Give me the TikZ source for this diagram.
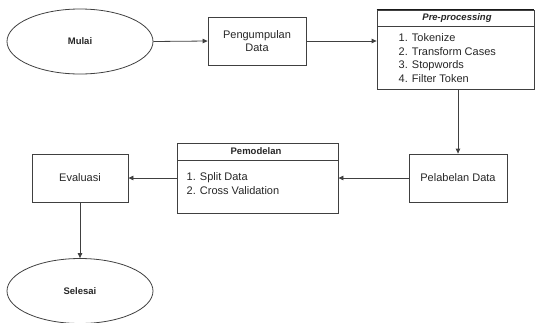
\documentclass[tikz,border=0pt]{standalone}
\usepackage{fontspec}
\setmainfont{Liberation Sans}
\usetikzlibrary{shapes.geometric,arrows.meta}
\begin{document}
\begin{tikzpicture}[x=1pt,y=-1pt,
  line/.style={draw=black!75,line width=0.8pt},
  arr/.style={line,-{Triangle[length=5pt,width=4.5pt]}},
  term/.style={ellipse,line,minimum width=146pt,minimum height=65pt,inner sep=0pt,font=\fontsize{9.5}{11}\selectfont\bfseries,text=black!85},
  proc/.style={rectangle,line,inner sep=0pt,font=\fontsize{11}{13}\selectfont,text=black!85,align=center},
  ttl/.style={font=\fontsize{9.5}{11}\selectfont\bfseries,text=black!85,inner sep=0pt},
  lst/.style={font=\fontsize{11}{13.6}\selectfont,text=black!85,inner sep=0pt,align=left,anchor=north west}
]
\useasboundingbox (0,0) rectangle (535,322);
% terminals
\node[term] (mulai) at (80,41.5) {Mulai};
\node[term] (selesai) at (80,291) {Selesai};
% process boxes
\node[proc,minimum width=98pt,minimum height=48pt] (peng) at (257,41) {Pengumpulan\\Data};
\node[proc,minimum width=98pt,minimum height=48pt] (pel) at (458,178) {Pelabelan Data};
\node[proc,minimum width=96pt,minimum height=48pt] (eval) at (80,178) {Evaluasi};
% pre-processing
\node[proc,minimum width=157pt,minimum height=79.5pt] (pre) at (455.5,49.7) {};
\draw[black!90,line width=1.1pt] (pre.north west) -- (pre.north east);
\coordinate (preH) at (377,26);
\draw[line] (preH) -- (preH -| pre.east);
\node[ttl,font=\fontsize{9.5}{11}\selectfont\bfseries\itshape] (pretitle) at (457,18.5) {Pre-processing};
\node[lst] (prelist) at (398.5,33.5) {1. Tokenize\\2. Transform Cases\\3. Stopwords\\4. Filter Token};
% pemodelan
\node[proc,minimum width=161pt,minimum height=70pt] (pem) at (257.5,178) {};
\coordinate (pemH) at (177,160);
\draw[line] (pemH) -- (pemH -| pem.east);
\node[ttl] (pemtitle) at (256,151.5) {Pemodelan};
\node[lst] (pemlist) at (186.5,172.3) {1. Split Data\\2. Cross Validation};
% connectors
\draw[arr] (mulai.east) -- (peng.west);
\draw[arr] (peng.east) -- (pre.west |- peng.east);
\draw[arr] (pel.north |- pre.south) -- (pel.north);
\draw[arr] (pel.west) -- (pem.east |- pel.west);
\draw[arr] (pem.west |- eval.east) -- (eval.east);
\draw[arr] (eval.south) -- (selesai.north);
\end{tikzpicture}
\end{document}
